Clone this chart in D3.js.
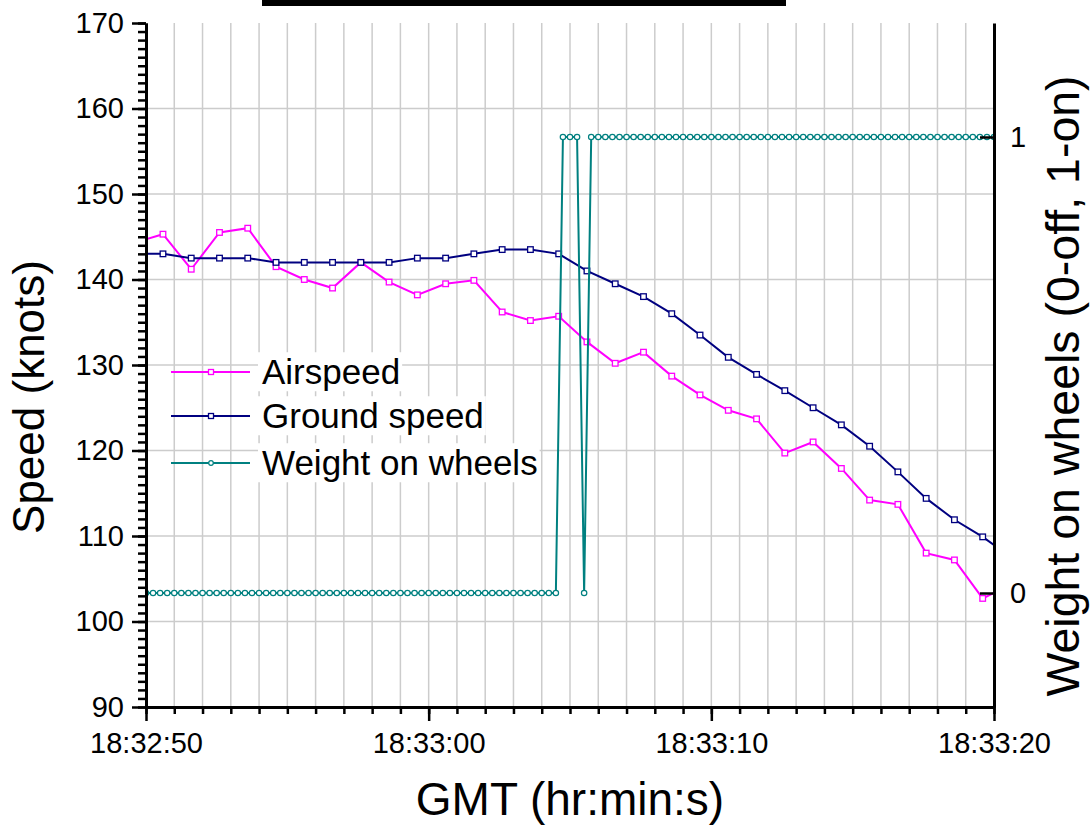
<!DOCTYPE html>
<html>
<head>
<meta charset="utf-8">
<script src="https://cdn.jsdelivr.net/npm/d3@7"></script>
<style>
  body { margin: 0; background: #fff; }
  text { font-family: Arial, "Liberation Sans", sans-serif; }
</style>
</head>
<body>
<svg id="chart" width="1092" height="827"></svg>
<script>
// seconds after 18:32:50 for the 1 Hz speed samples
var speedTimes = [-0.4, 0.6, 1.6, 2.6, 3.6, 4.6, 5.6, 6.6, 7.6, 8.6, 9.6, 10.6, 11.6, 12.6, 13.6, 14.6,
                  15.6, 16.6, 17.6, 18.6, 19.6, 20.6, 21.6, 22.6, 23.6, 24.6, 25.6, 26.6, 27.6, 28.6, 29.6, 30.6]

var airspeed = [144.3, 145.3, 141.2, 145.5, 146.0, 141.5, 140.0, 139.0, 142.0, 139.7, 138.2, 139.5, 139.9, 136.2, 135.2, 135.7,
                132.7, 130.2, 131.5, 128.7, 126.5, 124.7, 123.7, 119.7, 121.0, 117.9, 114.2, 113.7, 108.0, 107.2, 102.7, 104.3]

var groundSpeed = [143.0, 143.0, 142.5, 142.5, 142.5, 142.0, 142.0, 142.0, 142.0, 142.0, 142.5, 142.5, 143.0, 143.5, 143.5, 143.0,
                   141.0, 139.5, 138.0, 136.0, 133.5, 130.9, 128.9, 127.0, 125.0, 123.0, 120.5, 117.5, 114.4, 111.9, 109.9, 107.5]

// 4 Hz weight on wheels samples
var wowTimes = [0, 0.25, 0.5, 0.75, 1, 1.25, 1.5, 1.75,
                2, 2.25, 2.5, 2.75, 3, 3.25, 3.5, 3.75,
                4, 4.25, 4.5, 4.75, 5, 5.25, 5.5, 5.75,
                6, 6.25, 6.5, 6.75, 7, 7.25, 7.5, 7.75,
                8, 8.25, 8.5, 8.75, 9, 9.25, 9.5, 9.75,
                10, 10.25, 10.5, 10.75, 11, 11.25, 11.5, 11.75,
                12, 12.25, 12.5, 12.75, 13, 13.25, 13.5, 13.75,
                14, 14.25, 14.5, 14.75, 15, 15.25, 15.5, 15.75,
                16, 16.25, 16.5, 16.75, 17, 17.25, 17.5, 17.75,
                18, 18.25, 18.5, 18.75, 19, 19.25, 19.5, 19.75,
                20, 20.25, 20.5, 20.75, 21, 21.25, 21.5, 21.75,
                22, 22.25, 22.5, 22.75, 23, 23.25, 23.5, 23.75,
                24, 24.25, 24.5, 24.75, 25, 25.25, 25.5, 25.75,
                26, 26.25, 26.5, 26.75, 27, 27.25, 27.5, 27.75,
                28, 28.25, 28.5, 28.75, 29, 29.25, 29.5, 29.75,
                30]

var wowValues = [0, 0, 0, 0, 0, 0, 0, 0,
                 0, 0, 0, 0, 0, 0, 0, 0,
                 0, 0, 0, 0, 0, 0, 0, 0,
                 0, 0, 0, 0, 0, 0, 0, 0,
                 0, 0, 0, 0, 0, 0, 0, 0,
                 0, 0, 0, 0, 0, 0, 0, 0,
                 0, 0, 0, 0, 0, 0, 0, 0,
                 0, 0, 0, 1, 1, 1, 0, 1,
                 1, 1, 1, 1, 1, 1, 1, 1,
                 1, 1, 1, 1, 1, 1, 1, 1,
                 1, 1, 1, 1, 1, 1, 1, 1,
                 1, 1, 1, 1, 1, 1, 1, 1,
                 1, 1, 1, 1, 1, 1, 1, 1,
                 1, 1, 1, 1, 1, 1, 1, 1,
                 1, 1, 1, 1, 1, 1, 1, 1,
                 1]

var xMajorTicks = [0, 10, 20, 30]
var xTickLabels = ["18:32:50", "18:33:00", "18:33:10", "18:33:20"]
var speedTicks = [90, 100, 110, 120, 130, 140, 150, 160, 170]
var wowTicks = [0, 1]

var seriesNames = ["Airspeed", "Ground speed", "Weight on wheels"]
var seriesColors = ["#ff00ff", "#000080", "#008080"]

var svg = d3.select("#chart")

var x = d3.scaleLinear().domain([0, 30]).range([146, 994])
var y = d3.scaleLinear().domain([90, 170]).range([707, 23])
var y2 = d3.scaleLinear().domain([-0.25, 1.25]).range([707, 23])

svg.append("rect").attr("width", 1092).attr("height", 827).attr("fill", "#fff")

// the black bar at the very top
svg.append("rect")
    .attr("x", 262).attr("y", 0)
    .attr("width", 524).attr("height", 6)
    .attr("fill", "#000")

svg.append("clipPath").attr("id", "plotclip")
  .append("rect")
    .attr("x", x(0)).attr("y", y(170))
    .attr("width", x(30) - x(0)).attr("height", y(90) - y(170))

// grid
var grid = svg.append("g")
grid.selectAll(".vgrid")
    .data(d3.range(1, 30)).enter()
    .append("line")
        .attr("x1", function(d){ return x(d) })
        .attr("x2", function(d){ return x(d) })
        .attr("y1", y(170))
        .attr("y2", y(90))
        .attr("stroke", "#cccccc")
        .attr("stroke-width", 1.5)

grid.selectAll(".hgrid")
    .data(speedTicks.slice(1, -1)).enter()
    .append("line")
        .attr("x1", x(0))
        .attr("x2", x(30))
        .attr("y1", function(d){ return y(d) })
        .attr("y2", function(d){ return y(d) })
        .attr("stroke", "#cccccc")
        .attr("stroke-width", 1.5)

// series
var plot = svg.append("g").attr("clip-path", "url(#plotclip)")

var speedLine = d3.line()
    .x(function(d){ return x(d[0]) })
    .y(function(d){ return y(d[1]) })

var speedSeries = [d3.zip(speedTimes, airspeed), d3.zip(speedTimes, groundSpeed)]

speedSeries.forEach(function(pts, i) {
    plot.append("path")
        .datum(pts)
        .attr("d", speedLine)
        .attr("fill", "none")
        .attr("stroke", seriesColors[i])
        .attr("stroke-width", 2)

    plot.selectAll(".m" + i)
        .data(pts).enter()
        .append("rect")
            .attr("x", function(d){ return x(d[0]) - 2.8 })
            .attr("y", function(d){ return y(d[1]) - 2.8 })
            .attr("width", 5.6)
            .attr("height", 5.6)
            .attr("fill", "#fff")
            .attr("stroke", seriesColors[i])
            .attr("stroke-width", 1.3)
})

var wowPts = d3.zip(wowTimes, wowValues)

plot.append("path")
    .datum(wowPts)
    .attr("d", d3.line()
        .x(function(d){ return x(d[0]) })
        .y(function(d){ return y2(d[1]) }))
    .attr("fill", "none")
    .attr("stroke", seriesColors[2])
    .attr("stroke-width", 2)

plot.selectAll(".wow")
    .data(wowPts).enter()
    .append("circle")
        .attr("cx", function(d){ return x(d[0]) })
        .attr("cy", function(d){ return y2(d[1]) })
        .attr("r", 2.7)
        .attr("fill", "#fff")
        .attr("stroke", seriesColors[2])
        .attr("stroke-width", 1.2)

// axes
function styleAxis(g) {
    g.attr("font-family", null)
    g.selectAll("path.domain").attr("stroke", "#000").attr("stroke-width", 3)
    g.selectAll(".tick line").attr("stroke", "#000").attr("stroke-width", 2.5)
    g.selectAll(".tick text")
        .attr("font-size", 29)
        .attr("fill", "#000")
}

svg.append("g")
    .attr("transform", "translate(0," + y(90) + ")")
    .call(d3.axisBottom(x).tickValues(d3.range(0, 31)).tickSize(7).tickSizeOuter(0).tickFormat(""))
    .call(styleAxis)

svg.append("g")
    .attr("transform", "translate(0," + y(90) + ")")
    .call(d3.axisBottom(x).tickValues(xMajorTicks).tickSize(14).tickSizeOuter(0).tickPadding(11)
        .tickFormat(function(d, i){ return xTickLabels[i] }))
    .call(styleAxis)

svg.append("g")
    .attr("transform", "translate(" + x(0) + ",0)")
    .call(d3.axisLeft(y).tickValues(d3.range(90, 171)).tickSize(8).tickSizeOuter(0).tickFormat(""))
    .call(styleAxis)

svg.append("g")
    .attr("transform", "translate(" + x(0) + ",0)")
    .call(d3.axisLeft(y).tickValues(speedTicks).tickSize(14).tickSizeOuter(0).tickPadding(8))
    .call(styleAxis)

svg.append("g")
    .attr("transform", "translate(" + x(30) + ",0)")
    .call(d3.axisRight(y2).tickValues(wowTicks).tickSize(-14).tickSizeOuter(0).tickPadding(16)
        .tickFormat(d3.format("d")))
    .call(styleAxis)

// axis titles
svg.append("text")
    .attr("x", 570).attr("y", 815)
    .attr("text-anchor", "middle")
    .attr("font-size", 46)
    .text("GMT (hr:min:s)")

svg.append("text")
    .attr("transform", "translate(44,397) rotate(-90)")
    .attr("text-anchor", "middle")
    .attr("font-size", 44)
    .text("Speed (knots)")

svg.append("text")
    .attr("transform", "translate(1079,386) rotate(-90)")
    .attr("text-anchor", "middle")
    .attr("font-size", 46.5)
    .text("Weight on wheels (0-off, 1-on)")

// legend
var legendY = [372, 416, 463]
var legend = svg.append("g")

seriesNames.forEach(function(name, i) {
    var ly = legendY[i]
    var bg = legend.append("rect").attr("fill", "#fff")
    var t = legend.append("text")
        .attr("x", 262).attr("y", ly)
        .attr("dy", "0.35em")
        .attr("font-size", 35)
        .text(name)
    var bb = t.node().getBBox()
    bg.attr("x", bb.x - 4).attr("y", bb.y)
      .attr("width", bb.width + 6).attr("height", bb.height)

    legend.append("line")
        .attr("x1", 171).attr("x2", 250)
        .attr("y1", ly).attr("y2", ly)
        .attr("stroke", seriesColors[i])
        .attr("stroke-width", 2)

    if (i < 2) {
        legend.append("rect")
            .attr("x", 211 - 2.5).attr("y", ly - 2.5)
            .attr("width", 5).attr("height", 5)
            .attr("fill", "#fff")
            .attr("stroke", seriesColors[i])
            .attr("stroke-width", 1.3)
    } else {
        legend.append("circle")
            .attr("cx", 211).attr("cy", ly)
            .attr("r", 2.3)
            .attr("fill", "#fff")
            .attr("stroke", seriesColors[i])
            .attr("stroke-width", 1.2)
    }
})
</script>
</body>
</html>
